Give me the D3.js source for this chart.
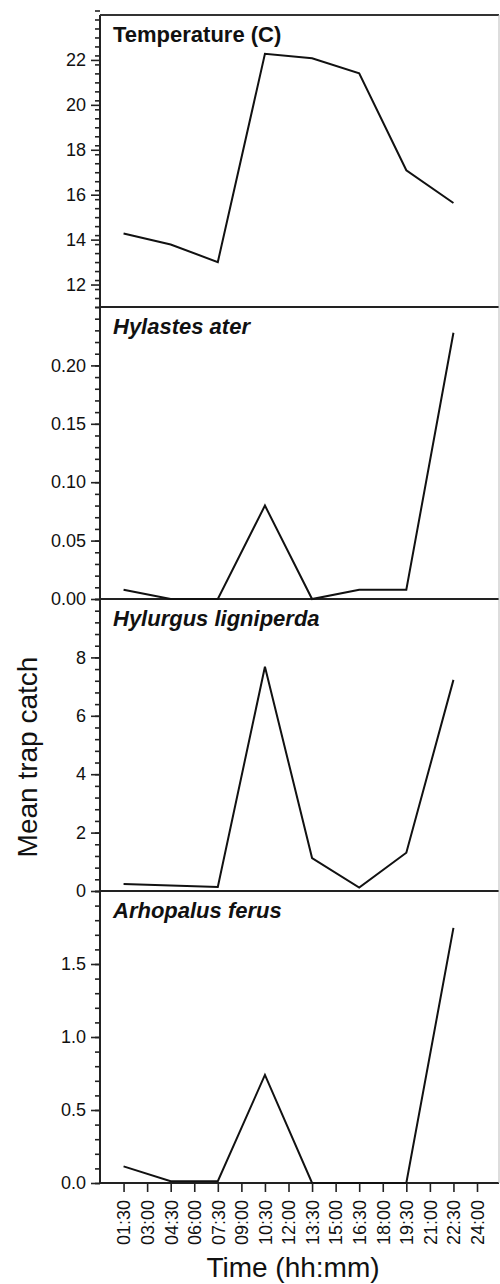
<!DOCTYPE html>
<html>
<head>
<meta charset="utf-8">
<script src="https://cdn.jsdelivr.net/npm/d3@7"></script>
<style>
  body { margin: 0; background: #fff; }
  svg { display: block; font-family: "Liberation Sans", Arial, sans-serif; }
</style>
</head>
<body>
<div id="chart"></div>
<script>
// sampling times (hours) and tick labels
const hours = [1.5, 4.5, 7.5, 10.5, 13.5, 16.5, 19.5, 22.5];
const tickHours = [1.5, 3, 4.5, 6, 7.5, 9, 10.5, 12, 13.5, 15, 16.5, 18, 19.5, 21, 22.5, 24];
const tickLabels = ["01:30", "03:00", "04:30", "06:00", "07:30", "09:00", "10:30", "12:00",
                    "13:30", "15:00", "16:30", "18:00", "19:30", "21:00", "22:30", "24:00"];

// panel values
const temperature = [14.27, 13.78, 13.0, 22.27, 22.07, 21.4, 17.09, 15.63];
const hylastes = [0.008, 0, 0, 0.08, 0, 0.008, 0.008, 0.228];
const hylurgus = [0.24, 0.19, 0.14, 7.68, 1.13, 0.12, 1.31, 7.23];
const arhopalus = [0.114, 0.012, 0.012, 0.74, 0, 0, 0, 1.747];

const panelNames = ["Temperature (C)", "Hylastes ater", "Hylurgus ligniperda", "Arhopalus ferus"];
const panelDomains = [[11, 24], [0, 0.25], [0, 10], [0, 2]];
const majorTicks = [[12, 14, 16, 18, 20, 22], [0, 0.05, 0.1, 0.15, 0.2], [0, 2, 4, 6, 8], [0, 0.5, 1.0, 1.5]];
const minorStep = [0.4, 0.01, 0.4, 0.1];
const tickFormats = [d3.format("d"), d3.format(".2f"), d3.format("d"), d3.format(".1f")];
const series = [temperature, hylastes, hylurgus, arhopalus];

const width = 500, height = 1284;
const margin = { top: 15, right: 1, left: 100 };
const panelH = 292;
const plotW = width - margin.left - margin.right;

const svg = d3.select("#chart").append("svg")
  .attr("width", width)
  .attr("height", height);

const x = d3.scaleLinear().domain([0, 25.4]).range([margin.left, margin.left + plotW]);

const line = (y) => d3.line().x((d, i) => x(hours[i])).y(d => y(d));

series.forEach((values, p) => {
  const top = margin.top + p * panelH;
  const y = d3.scaleLinear().domain(panelDomains[p]).range([top + panelH, top]);

  // minor ticks
  const [lo, hi] = panelDomains[p];
  const minors = d3.range(Math.round((hi - lo) / minorStep[p]) + 1).map(k => lo + k * minorStep[p]);
  svg.append("g")
    .attr("transform", "translate(" + margin.left + ",0)")
    .call(d3.axisLeft(y).tickValues(minors).tickSize(5).tickFormat(""))
    .call(g => g.select(".domain").remove())
    .selectAll("line").attr("stroke", "#222").attr("stroke-width", 1.6);

  // major ticks
  svg.append("g")
    .attr("class", "y-axis")
    .attr("transform", "translate(" + margin.left + ",0)")
    .call(d3.axisLeft(y).tickValues(majorTicks[p]).tickSize(9).tickPadding(5).tickFormat(tickFormats[p]))
    .attr("font-family", null)
    .attr("font-size", 18)
    .call(g => g.select(".domain").remove())
    .call(g => g.selectAll("line").attr("stroke", "#222").attr("stroke-width", 1.6))
    .call(g => g.selectAll("text").attr("fill", "#111"));

  // panel separator / bottom line
  svg.append("line")
    .attr("x1", margin.left).attr("x2", margin.left + plotW)
    .attr("y1", top + panelH).attr("y2", top + panelH)
    .attr("stroke", "#222").attr("stroke-width", 2);

  // data line
  svg.append("path")
    .datum(values)
    .attr("fill", "none")
    .attr("stroke", "#111")
    .attr("stroke-width", 2)
    .attr("stroke-linejoin", "miter")
    .attr("d", line(y));

  // panel title
  svg.append("text")
    .attr("x", margin.left + 13)
    .attr("y", top + 27)
    .attr("font-size", 22)
    .attr("font-weight", "bold")
    .attr("font-style", p === 0 ? "normal" : "italic")
    .attr("fill", "#111")
    .text(panelNames[p]);
});

const bottom = margin.top + 4 * panelH;

// frame: left axis, top, right
svg.append("line")
  .attr("x1", margin.left).attr("x2", margin.left)
  .attr("y1", margin.top).attr("y2", bottom)
  .attr("stroke", "#222").attr("stroke-width", 2);
svg.append("line")
  .attr("x1", margin.left).attr("x2", margin.left + plotW)
  .attr("y1", margin.top).attr("y2", margin.top)
  .attr("stroke", "#333").attr("stroke-width", 2);
svg.append("line")
  .attr("x1", margin.left + plotW).attr("x2", margin.left + plotW)
  .attr("y1", margin.top).attr("y2", bottom)
  .attr("stroke", "#bbb").attr("stroke-width", 1);

// x axis
svg.append("g")
  .attr("transform", "translate(0," + bottom + ")")
  .call(d3.axisBottom(x).tickValues(tickHours).tickSize(9).tickFormat((d, i) => tickLabels[i]))
  .attr("font-family", null)
  .attr("font-size", 18)
  .call(g => g.select(".domain").remove())
  .call(g => g.selectAll("line").attr("stroke", "#222").attr("stroke-width", 1.6))
  .call(g => g.selectAll("text")
    .attr("fill", "#111")
    .attr("transform", "rotate(-90)")
    .attr("text-anchor", "end")
    .attr("x", -17)
    .attr("y", 0)
    .attr("dy", "0.35em"));

// axis titles
svg.append("text")
  .attr("x", 293)
  .attr("y", 1277)
  .attr("text-anchor", "middle")
  .attr("font-size", 28)
  .attr("fill", "#111")
  .text("Time (hh:mm)");

svg.append("text")
  .attr("transform", "translate(37,757) rotate(-90)")
  .attr("text-anchor", "middle")
  .attr("font-size", 28)
  .attr("fill", "#111")
  .text("Mean trap catch");
</script>
</body>
</html>
